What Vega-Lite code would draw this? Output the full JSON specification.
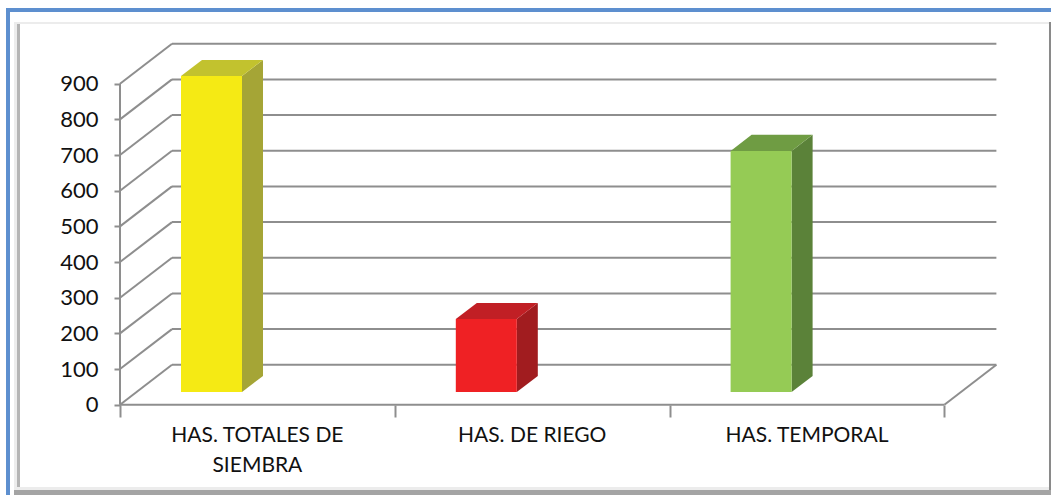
{
"$schema":"https://vega.github.io/schema/vega-lite/v6.json",
"width":1051,"height":495,"padding":0,"autosize":{"type":"none"},
"background":"white",
"config":{"view":{"stroke":null},"font":"Lato"},
"datasets":{
"bars":[
{"category":"HAS. TOTALES DE SIEMBRA","label":"HAS. TOTALES DE\nSIEMBRA","value":886,"pos":0.5,"depth":[0,1]},
{"category":"HAS. DE RIEGO","label":"HAS. DE RIEGO","value":205,"pos":1.5,"depth":[0,1]},
{"category":"HAS. TEMPORAL","label":"HAS. TEMPORAL","value":676,"pos":2.5,"depth":[0,1]}
],
"levels":[{"tick":0},{"tick":100},{"tick":200},{"tick":300},{"tick":400},{"tick":500},{"tick":600},{"tick":700},{"tick":800},{"tick":900}],
"frame":[
{"part":"blue","a":-0.4148,"b":-0.4003,"c":-253.1,"d":1112.2},
{"part":"blue","a":-0.4148,"b":3.3879,"c":1101,"d":1112.2},
{"part":"light","a":-0.3857,"b":3.3806,"c":1067.3,"d":1072.9},
{"part":"light","a":-0.3857,"b":-0.3748,"c":-253.1,"d":1072.9},
{"part":"mid","a":-0.3748,"b":-0.3639,"c":-230.7,"d":1067.3},
{"part":"light","a":-0.3857,"b":3.3806,"c":-239.1,"d":-230.7},
{"part":"dark","a":-0.3857,"b":3.3879,"c":-253.1,"d":-239.1},
{"part":"edge","a":3.3806,"b":3.3879,"c":-239.1,"d":1072.9}
]
},
"layer":[
{"data":{"name":"frame"},"mark":{"type":"rect"},
 "encoding":{
  "x":{"field":"a","type":"quantitative","scale":{"domain":[-0.43668,3.38792],"range":[0,1051],"nice":false,"zero":false},
       "axis":{"orient":"bottom","offset":-90,"values":[0,1,2,3],"labels":false,"domain":false,"grid":false,"title":null,"tickSize":12,"tickWidth":2,"tickColor":"#8e8e8e"}},
  "x2":{"field":"b"},
  "y":{"field":"c","type":"quantitative","scale":{"domain":[-253.1,1134.6],"range":[495,0],"nice":false,"zero":false},
       "axis":{"orient":"left","offset":-120,"values":[0,100,200,300,400,500,600,700,800,900],"domain":false,"grid":false,"title":null,"tickSize":6,"tickWidth":2,"tickColor":"#8e8e8e","labelPadding":16,"labelFontSize":22,"labelColor":"#111111","labelFont":"Lato"}},
  "y2":{"field":"d"},
  "color":{"field":"part","type":"nominal","legend":null,"scale":{"domain":["blue","light","mid","dark","edge"],"range":["#5d8fcf","#ececec","#b4b4b4","#a4a4a4","#8a8a8a"]}}
 }},
{"data":{"name":"levels"},"transform":[{"calculate":"datum.tick+112","as":"back"}],
 "mark":{"type":"rule","stroke":"#8e8e8e","strokeWidth":2},
 "encoding":{"x":{"datum":0.1892},"x2":{"datum":3.1892},"y":{"field":"back","type":"quantitative"}}},
{"data":{"name":"levels"},"transform":[{"calculate":"datum.tick+112","as":"back"}],
 "mark":{"type":"rule","stroke":"#8e8e8e","strokeWidth":2},
 "encoding":{"x":{"datum":0},"x2":{"datum":0.1892},"y":{"field":"tick","type":"quantitative"},"y2":{"field":"back"}}},
{"data":{"values":[{"from":0,"to":3}]},
 "mark":{"type":"rule","stroke":"#8e8e8e","strokeWidth":2},
 "encoding":{"x":{"field":"from","type":"quantitative"},"x2":{"field":"to"},"y":{"datum":0}}},
{"data":{"values":[{"from":0,"to":900}]},
 "mark":{"type":"rule","stroke":"#8e8e8e","strokeWidth":2},
 "encoding":{"x":{"datum":0},"y":{"field":"from","type":"quantitative"},"y2":{"field":"to"}}},
{"data":{"values":[{"from":3,"to":3.1892,"low":0,"high":112}]},
 "mark":{"type":"rule","stroke":"#8e8e8e","strokeWidth":2},
 "encoding":{"x":{"field":"from","type":"quantitative"},"x2":{"field":"to"},"y":{"field":"low","type":"quantitative"},"y2":{"field":"high"}}},
{"data":{"name":"bars"},
 "transform":[{"flatten":["depth"]},
  {"calculate":"datum.pos-0.056+datum.depth*0.0764","as":"xs"},
  {"calculate":"35.6+datum.depth*44.9","as":"ybase"},
  {"calculate":"35.6+datum.value+datum.depth*44.9","as":"ytop"}],
 "mark":{"type":"area"},
 "encoding":{"x":{"field":"xs","type":"quantitative"},"y":{"field":"ytop","type":"quantitative"},"y2":{"field":"ybase"},
  "color":{"field":"category","type":"nominal","legend":null,"scale":{"domain":["HAS. TOTALES DE SIEMBRA","HAS. DE RIEGO","HAS. TEMPORAL"],"range":["#a5a536","#a11c1f","#5b8239"]}}}},
{"data":{"name":"bars"},
 "transform":[{"flatten":["depth"]},
  {"calculate":"datum.pos-0.278+datum.depth*0.0764","as":"xl"},
  {"calculate":"datum.pos-0.056+datum.depth*0.0764","as":"xr"},
  {"calculate":"35.6+datum.value+datum.depth*44.9","as":"ytop"}],
 "mark":{"type":"area","orient":"horizontal"},
 "encoding":{"y":{"field":"ytop","type":"quantitative"},"x":{"field":"xl","type":"quantitative"},"x2":{"field":"xr"},
  "color":{"field":"category","type":"nominal","legend":null,"scale":{"domain":["HAS. TOTALES DE SIEMBRA","HAS. DE RIEGO","HAS. TEMPORAL"],"range":["#c2c22e","#c11f25","#6f9c43"]}}}},
{"data":{"name":"bars"},
 "transform":[
  {"calculate":"datum.pos-0.278","as":"xl"},
  {"calculate":"datum.pos-0.056","as":"xr"},
  {"calculate":"35.6+datum.value","as":"ytop"}],
 "mark":{"type":"rect"},
 "encoding":{"x":{"field":"xl","type":"quantitative"},"x2":{"field":"xr"},"y":{"field":"ytop","type":"quantitative"},"y2":{"datum":35.6},
  "color":{"field":"category","type":"nominal","legend":null,"scale":{"domain":["HAS. TOTALES DE SIEMBRA","HAS. DE RIEGO","HAS. TEMPORAL"],"range":["#f5ea14","#ef2124","#95cb55"]}}}},
{"data":{"name":"bars"},
 "mark":{"type":"text","fontSize":21,"font":"Lato","color":"#111111","align":"center","baseline":"middle","lineBreak":"\n","lineHeight":30},
 "encoding":{"x":{"field":"pos","type":"quantitative"},"y":{"datum":-89},"text":{"field":"label"}}}
],
"resolve":{"scale":{"color":"independent"}}
}
